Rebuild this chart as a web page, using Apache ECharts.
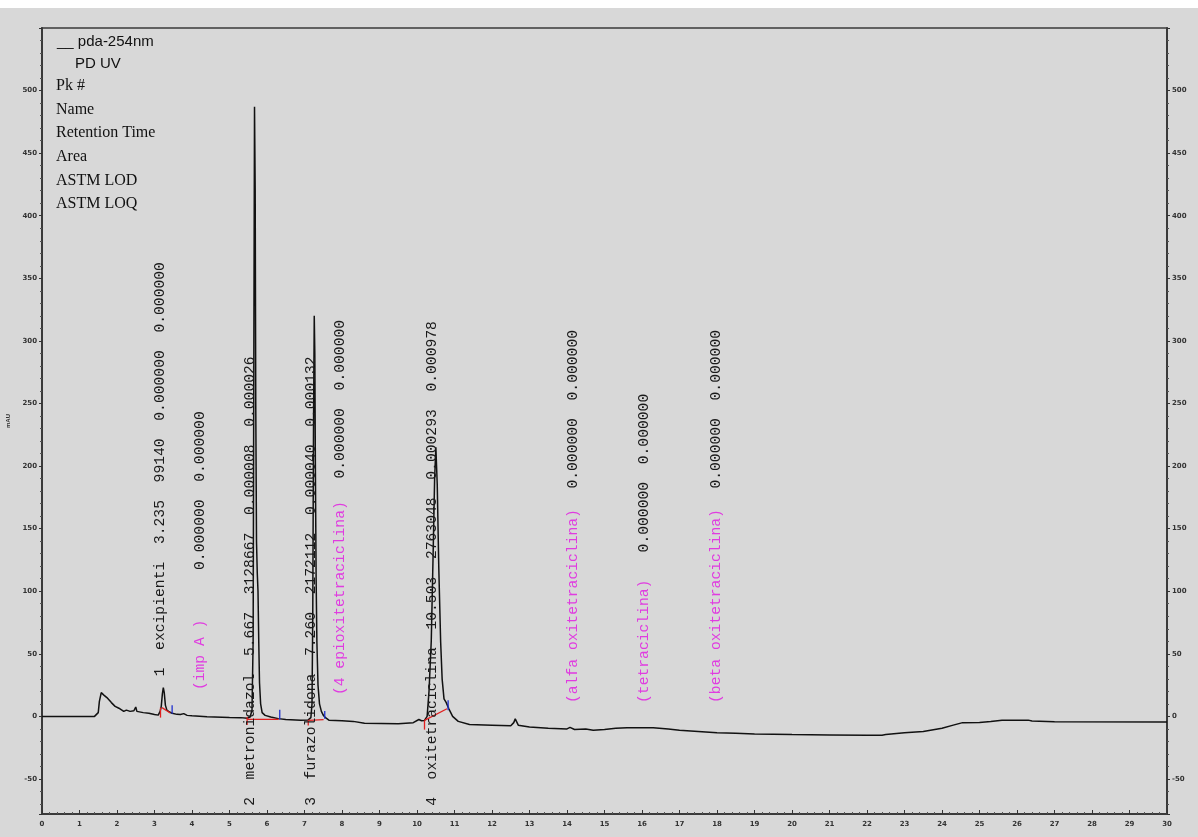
<!DOCTYPE html>
<html>
<head>
<meta charset="utf-8">
<title>pda-254nm chromatogram</title>
<script src="https://cdn.jsdelivr.net/npm/echarts@6/dist/echarts.min.js"></script>
<style>
  html, body { margin: 0; padding: 0; background: #ffffff; }
  #chart { width: 1198px; height: 837px; }
</style>
</head>
<body>
<div id="chart"></div>
<script>
// Detector trace: [retention time (min), signal (mAU)]
const trace = [
  [0, 0], [1.40, 0], [1.45, 1], [1.50, 3], [1.53, 12], [1.58, 19], [1.65, 17], [1.73, 15],
  [1.85, 11], [1.95, 8], [2.05, 6.5], [2.18, 4], [2.25, 5], [2.35, 4], [2.45, 4.5], [2.50, 7.5],
  [2.53, 4], [2.58, 3.5], [2.70, 3], [2.85, 2.5], [3.00, 1.5], [3.10, 1], [3.15, 4], [3.18, 8],
  [3.21, 18], [3.235, 23], [3.26, 19], [3.29, 9], [3.33, 5], [3.40, 3.5], [3.47, 2.5], [3.60, 1.6],
  [3.69, 1.5], [3.78, 2.2], [3.87, 0.8], [4.00, 0.5], [4.40, -0.3], [5.00, -0.8], [5.30, -1],
  [5.47, -1.5], [5.55, -0.5], [5.60, 5], [5.63, 60], [5.65, 300], [5.667, 487], [5.685, 420],
  [5.70, 250], [5.72, 140], [5.74, 115], [5.76, 100], [5.78, 60], [5.80, 27], [5.83, 10],
  [5.87, 3], [5.95, 0.8], [6.10, -0.5], [6.30, -1.8], [6.50, -2.5], [6.90, -3], [7.10, -2.8],
  [7.17, -1], [7.20, 10], [7.22, 80], [7.24, 230], [7.26, 320], [7.275, 290], [7.29, 200],
  [7.31, 110], [7.33, 60], [7.36, 25], [7.40, 10], [7.45, 4], [7.50, 1], [7.56, -1], [7.65, -3],
  [8.00, -3.5], [8.30, -4], [8.60, -5.5], [9.50, -5.8], [9.90, -5], [10.05, -2.5], [10.12, -3.5],
  [10.20, -3.2], [10.27, 0], [10.32, 20], [10.38, 60], [10.43, 130], [10.47, 190], [10.503, 215],
  [10.54, 185], [10.58, 120], [10.63, 60], [10.67, 30], [10.72, 14], [10.78, 11], [10.85, 6],
  [10.95, 0], [11.10, -4], [11.40, -6.5], [12.00, -7], [12.50, -7.5], [12.58, -5], [12.62, -2],
  [12.70, -7], [13.00, -8.5], [13.50, -9.5], [14.00, -10], [14.08, -8.8], [14.20, -10.5],
  [14.50, -10], [14.70, -11], [15.00, -10.5], [15.30, -9.5], [15.60, -9], [16.30, -9],
  [16.70, -10], [17.00, -11], [17.50, -12], [18.00, -13], [18.50, -13.5], [19.00, -14],
  [20.00, -14.5], [21.00, -14.8], [22.00, -15], [22.40, -15], [22.50, -14.5], [23.00, -13],
  [23.50, -12], [24.00, -9.5], [24.30, -7], [24.55, -5], [25.00, -4.8], [25.30, -4],
  [25.60, -3], [26.30, -3], [26.40, -3.7], [27.00, -4.3], [30.00, -4.5]
];

// Integrated peaks
const peakNo   = ['1', '2', '3', '4'];
const peakName = ['excipienti', 'metronidazol', 'furazolidona', 'oxitetraciclina'];
const retTime  = ['3.235', '5.667', '7.260', '10.503'];
const peakArea = ['99140', '3128667', '2172112', '2763048'];
const peakLod  = ['0.000000', '0.000008', '0.000040', '0.000293'];
const peakLoq  = ['0.000000', '0.000026', '0.000132', '0.000978'];
const peakLabelAt = [[3.16, 32], [5.556, -71.5], [7.185, -71.5], [10.41, -71.5]];

// Expected compounds that were not found
const missName = ['(imp A )', '(4 epioxitetraciclina)', '(alfa oxitetraciclina)', '(tetraciclina)', '(beta oxitetraciclina)'];
const missLod  = ['0.000000', '0.000000', '0.000000', '0.000000', '0.000000'];
const missLoq  = ['0.000000', '0.000000', '0.000000', '0.000000', '0.000000'];
const missNameAt  = [[4.22, 21], [7.96, 17], [14.15, 10.7], [16.05, 10.7], [17.97, 10.7]];
const missValueAt = [[4.22, 117], [7.96, 190], [14.15, 182], [16.05, 131], [17.97, 182]];

// Integration baselines (red) and peak-end markers (blue): [t1, v1, t2, v2]
const baselineMarks = [
  [3.16, -1, 3.16, 7], [3.20, 7, 3.42, 2.7],
  [5.47, -0.5, 5.47, -6.9], [5.47, -2.4, 6.31, -2.4],
  [7.10, -3.2, 7.10, -7.2], [7.10, -3.2, 7.51, -2.6],
  [10.20, -3.2, 10.20, -10.6], [10.20, -3.2, 10.80, 6.1]
];
const peakEndMarks = [
  [3.47, 8.8, 3.47, 2.1], [6.34, 5.2, 6.34, -2.4],
  [7.54, 4.3, 7.54, -1.9], [10.83, 12.8, 10.83, 4.8]
];

const legendLines = ['Pk #', 'Name', 'Retention Time', 'Area', 'ASTM LOD', 'ASTM LOQ'];

// Build the rotated annotation list
const annotations = [];
peakNo.forEach((n, i) => {
  annotations.push({
    value: peakLabelAt[i],
    text: [n, peakName[i], retTime[i], peakArea[i], peakLod[i], peakLoq[i]].join('  '),
    color: '#1a1a1a'
  });
});
missName.forEach((n, i) => {
  annotations.push({ value: missNameAt[i], text: n, color: '#e03ce0' });
  annotations.push({ value: missValueAt[i], text: missLod[i] + '  ' + missLoq[i], color: '#1a1a1a' });
});

const LABEL_FONT = '14.7px "Liberation Mono", monospace';

const chart = echarts.init(document.getElementById('chart'), null, { renderer: 'canvas' });

const tickLabel = { fontSize: 7, color: '#333', fontFamily: 'DejaVu Sans', fontWeight: 'bold' };

const yAxisBase = {
  type: 'value',
  min: -78,
  max: 550,
  splitNumber: 12,
  name: 'mAU',
  nameLocation: 'middle',
  nameRotate: 90,
  nameTextStyle: { fontSize: 6, color: '#333', fontWeight: 'bold' },
  axisLine: { show: true, lineStyle: { color: '#3a3a3a', width: 2 } },
  axisTick: { show: true, length: 3, lineStyle: { color: '#333' } },
  minorTick: { show: true, splitNumber: 5, length: 2, lineStyle: { color: '#555' } },
  splitLine: { show: false },
  axisLabel: Object.assign({ showMinLabel: false, showMaxLabel: false, margin: 5 }, tickLabel)
};

chart.setOption({
  animation: false,
  backgroundColor: '#d8d8d8',
  grid: {
    left: 42, right: 31, top: 28, bottom: 23,
    containLabel: false,
    outerBoundsMode: 'none',
    show: true, borderColor: '#3a3a3a', borderWidth: 1.5, backgroundColor: 'transparent'
  },
  xAxis: {
    type: 'value',
    min: 0, max: 30, interval: 1,
    axisLine: { show: true, onZero: false, lineStyle: { color: '#3a3a3a', width: 2 } },
    axisTick: { show: true, inside: true, length: 4, lineStyle: { color: '#333' } },
    minorTick: { show: true, splitNumber: 5, length: 2, lineStyle: { color: '#555' } },
    splitLine: { show: false },
    axisLabel: Object.assign({ margin: 7 }, tickLabel)
  },
  yAxis: [
    Object.assign({}, yAxisBase, { position: 'left', nameGap: 31 }),
    Object.assign({}, yAxisBase, { position: 'right', nameGap: 25 })
  ],
  graphic: [
    { type: 'rect', left: 0, top: 0, shape: { width: 1198, height: 8 }, style: { fill: '#ffffff' }, z: 100 },
    { type: 'text', x: 57, y: 42, style: { text: '__ pda-254nm', font: '15px "Liberation Sans"', fill: '#111', verticalAlign: 'middle' }, z: 100 },
    { type: 'text', x: 75, y: 64, style: { text: 'PD UV', font: '15px "Liberation Sans"', fill: '#111', verticalAlign: 'middle' }, z: 100 }
  ].concat(legendLines.map((s, i) => ({
    type: 'text', x: 56, y: 86 + i * 23.6,
    style: { text: s, font: '16px "Liberation Serif"', fill: '#111', verticalAlign: 'middle' },
    z: 100
  }))),
  series: [
    {
      name: 'pda-254nm',
      type: 'line',
      data: trace,
      showSymbol: false,
      symbol: 'none',
      lineStyle: { color: '#111111', width: 1.5 },
      z: 3
    },
    {
      type: 'custom',
      data: baselineMarks,
      clip: false,
      z: 4,
      renderItem: (params, api) => {
        const a = api.coord([api.value(0), api.value(1)]);
        const b = api.coord([api.value(2), api.value(3)]);
        return { type: 'line', shape: { x1: a[0], y1: a[1], x2: b[0], y2: b[1] }, style: { stroke: '#e02020', lineWidth: 1.3 } };
      }
    },
    {
      type: 'custom',
      data: peakEndMarks,
      clip: false,
      z: 4,
      renderItem: (params, api) => {
        const a = api.coord([api.value(0), api.value(1)]);
        const b = api.coord([api.value(2), api.value(3)]);
        return { type: 'line', shape: { x1: a[0], y1: a[1], x2: b[0], y2: b[1] }, style: { stroke: '#2030d0', lineWidth: 1.3 } };
      }
    },
    {
      type: 'custom',
      data: annotations.map(a => a.value),
      clip: false,
      z: 5,
      renderItem: (params, api) => {
        const p = api.coord([api.value(0), api.value(1)]);
        const a = annotations[params.dataIndex];
        return {
          type: 'text',
          x: p[0], y: p[1],
          rotation: Math.PI / 2,
          style: { text: a.text, font: LABEL_FONT, fill: a.color, align: 'left', verticalAlign: 'middle' }
        };
      }
    }
  ]
});
</script>
</body>
</html>
